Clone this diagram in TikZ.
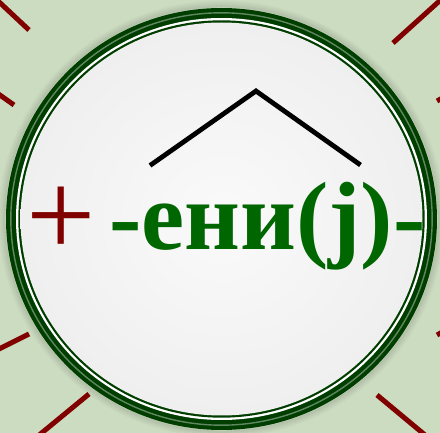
\documentclass[tikz,border=0pt]{standalone}
\usepackage{fontspec}
\setmainfont{Liberation Serif}
\definecolor{bggreen}{RGB}{204,220,193}
\definecolor{ringdark}{RGB}{0,62,0}
\definecolor{ringstripe}{RGB}{96,136,96}
\definecolor{textgreen}{RGB}{0,102,0}
\definecolor{rayred}{RGB}{128,0,0}
\definecolor{disccenter}{RGB}{250,250,250}
\definecolor{discedge}{RGB}{228,228,228}
\pgfdeclareradialshading{discshade}{\pgfpoint{0bp}{0bp}}{color(0bp)=(disccenter); color(50bp)=(discedge); color(100bp)=(discedge)}
\tikzset{
  ray/.style={draw=rayred, line width=5pt, line cap=butt},
  chevron/.style={draw=black, line width=4.8pt},
  wordtext/.style={inner sep=0pt, text=textgreen, font=\fontsize{97}{97}\selectfont\bfseries},
  plustext/.style={inner sep=0pt, text=rayred, font=\fontsize{123}{123}\selectfont},
}
\begin{document}
\begin{tikzpicture}[x=1pt,y=-1pt]
\useasboundingbox (0,0) rectangle (440,433);
\fill[bggreen] (0,0) rectangle (440,433);
\begin{scope}
\clip (0,0) rectangle (440,433);
% red rays
\draw[ray] (-3,0) -- (29,30);
\draw[ray] (-3,93) -- (14,105);
\draw[ray] (445,-4) -- (393,43);
\draw[ray] (437,101) -- (446,96);
\draw[ray] (-3,350) -- (29,334);
\draw[ray] (38,436) -- (89,394);
\draw[ray] (377,395) -- (425,435);
\draw[ray] (437,335) -- (446,330);
% shadow
\coordinate (c) at (221.5,219);
\foreach \i in {1,...,8}{
  \pgfmathsetmacro{\op}{0.10*(1-\i/9)}
  \draw[black, opacity=\op, line width=1.2pt] (c) ellipse [x radius=215.5pt+\i*0.9pt, y radius=211pt+\i*0.9pt];
}
\end{scope}
% rings
\fill[ringdark] (c) ellipse [x radius=215.5pt, y radius=211pt];
\draw[ringstripe, line width=1.4pt] (c) ellipse [x radius=210.7pt, y radius=206.2pt];
\fill[white] (c) ellipse [x radius=205.5pt, y radius=201pt];
\fill[ringdark] (c) ellipse [x radius=203.2pt, y radius=198.7pt];
\shade[shading=discshade] (c) ellipse [x radius=201pt, y radius=196.5pt];
% chevron
\coordinate (cl) at (150,165.5);
\coordinate (ca) at (256,91);
\coordinate (cr) at (360.5,165);
\draw[chevron] (cl) -- (ca) -- (cr);
% text
\node[plustext, anchor=base west] (plus) at (26.5,257) {+};
\node[wordtext, anchor=base west] (word) at (109,250) {-ени(j)-};
\end{tikzpicture}
\end{document}
